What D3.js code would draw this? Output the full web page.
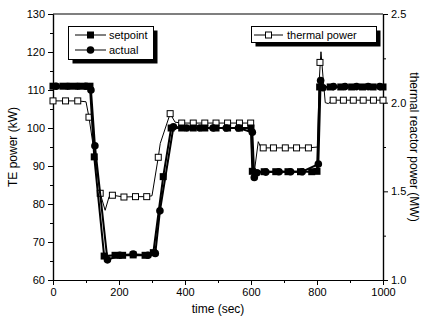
<!DOCTYPE html>
<html>
<head>
<meta charset="utf-8">
<script src="https://cdn.jsdelivr.net/npm/d3@7"></script>
<style>
body { margin: 0; background: #fff; }
svg text { font-family: 'Liberation Sans', sans-serif !important; fill: #000; }
</style>
</head>
<body>
<div id="container"></div>
<script>
// time (sec), TE power (kW)
var setpoint = [[0,111],[30,111],[60,111],[90,111],[112,111],[125,92.4],[155,66.3],[188,66.5],[211,66.5],[243,66.6],[279,66.5],[304,67.2],[334,87.2],[358,100],[390,100],[425,100],[460,100],[494,100],[529,100],[565,100],[600,100],[604,88.6],[640,88.5],[675,88.5],[712,88.5],[750,88.5],[784,88.5],[800,88.6],[808,110.8],[840,110.8],[872,110.8],[905,110.8],[938,110.8],[970,110.8],[1000,110.8]];
var actual = [[10,111],[45,111],[75,111],[100,111],[115,110],[127,95.3],[165,65.3],[202,66.5],[243,66.8],[288,66.5],[310,67],[324,78.2],[365,100.3],[405,100],[445,100],[485,100],[525,100],[562,100],[604,98.9],[610,87],[618,88.2],[645,88.4],[685,88.5],[720,88.5],[755,88.5],[804,90.5],[811,112.5],[818,110.6],[850,110.9],[885,110.9],[920,110.9],[955,110.9],[990,110.9]];
// thermal reactor power (MW): continuous trace and sampled markers
var thermalLine = [[0,2.01],[38,2.01],[75,2.01],[100,2.005],[109,1.918],[143,1.489],[158,1.393],[170,1.47],[180,1.478],[215,1.468],[250,1.47],[284,1.47],[300,1.475],[319,1.692],[325,1.77],[355,1.938],[370,1.89],[390,1.885],[425,1.885],[460,1.885],[494,1.885],[529,1.885],[565,1.885],[599,1.885],[602,1.7],[608,1.58],[622,1.78],[632,1.74],[637,1.745],[668,1.745],[704,1.745],[738,1.745],[774,1.745],[802,1.75],[806,2.1],[812,2.287],[818,2.15],[825,2.0],[834,1.995],[849,2.014],[880,2.014],[910,2.014],[940,2.014],[971,2.014],[1000,2.014]];
var thermalMarks = [[0,2.01],[38,2.01],[75,2.01],[109,1.918],[143,1.489],[180,1.478],[215,1.468],[250,1.47],[284,1.47],[319,1.692],[355,1.938],[390,1.885],[425,1.885],[460,1.885],[494,1.885],[529,1.885],[565,1.885],[599,1.885],[637,1.745],[668,1.745],[704,1.745],[738,1.745],[774,1.745],[809,2.227],[849,2.014],[880,2.014],[910,2.014],[940,2.014],[971,2.014],[1000,2.014]];
var xTicks = [0,200,400,600,800,1000];
var yLeftTicks = [60,70,80,90,100,110,120,130];
var yRightTicks = [1.0,1.5,2.0,2.5];

var W = 426, H = 322;
var FONT = "'Liberation Sans', sans-serif";
var svg = d3.select("#container").append("svg").attr("width", W).attr("height", H)
    .attr("font-family", FONT);

var x = d3.scaleLinear().domain([0,1000]).range([53,383]);
var yL = d3.scaleLinear().domain([60,130]).range([280,14]);
var yR = d3.scaleLinear().domain([1,2.5]).range([280,14]);

function styleAxis(g) {
    g.attr("font-family", FONT);
    g.select(".domain").attr("stroke", "#000").attr("stroke-width", 1.2);
    g.selectAll(".tick line").attr("stroke", "#000").attr("stroke-width", 1);
    g.selectAll(".tick text").style("font-size", "11px").style("font-family", FONT).attr("fill", "#000");
}

// minor ticks first
svg.append("g").attr("transform", "translate(0,280)")
    .call(d3.axisBottom(x).tickValues(d3.range(100,1000,200)).tickSize(3).tickFormat("").tickSizeOuter(0)).call(styleAxis);
svg.append("g").attr("transform", "translate(53,0)")
    .call(d3.axisLeft(yL).tickValues(d3.range(65,130,10)).tickSize(3).tickFormat("").tickSizeOuter(0)).call(styleAxis);
svg.append("g").attr("transform", "translate(383,0)")
    .call(d3.axisRight(yR).tickValues([1.25,1.75,2.25]).tickSize(3).tickFormat("").tickSizeOuter(0)).call(styleAxis);

svg.append("g").attr("transform", "translate(0,280)")
    .call(d3.axisBottom(x).tickValues(xTicks).tickSize(5).tickPadding(3).tickFormat(d3.format("d")).tickSizeOuter(0)).call(styleAxis);
svg.append("g").attr("transform", "translate(53,0)")
    .call(d3.axisLeft(yL).tickValues(yLeftTicks).tickSize(5).tickPadding(3).tickSizeOuter(0)).call(styleAxis);
svg.append("g").attr("transform", "translate(383,0)")
    .call(d3.axisRight(yR).tickValues(yRightTicks).tickSize(5).tickPadding(3).tickFormat(d3.format(".1f")).tickSizeOuter(0)).call(styleAxis);

// top frame
svg.append("line").attr("x1", 53).attr("x2", 383).attr("y1", 14).attr("y2", 14).attr("stroke", "#000").attr("stroke-width", 1.2);

// axis titles
svg.append("text").attr("x", 218).attr("y", 313).attr("text-anchor", "middle").style("font-size", "12px").text("time (sec)");
svg.append("text").attr("transform", "translate(17,147) rotate(-90)").attr("text-anchor", "middle").style("font-size", "12px").text("TE power (kW)");
svg.append("text").attr("transform", "translate(410,147) rotate(90)").attr("text-anchor", "middle").style("font-size", "12px").text("thermal reactor power (MW)");

var lineL = d3.line().x(function (d) { return x(d[0]); }).y(function (d) { return yL(d[1]); });
var lineR = d3.line().x(function (d) { return x(d[0]); }).y(function (d) { return yR(d[1]); });

var plot = svg.append("g");

// thermal power
plot.append("path").datum(thermalLine).attr("d", lineR).attr("fill", "none").attr("stroke", "#000").attr("stroke-width", 1);
plot.selectAll(".tm").data(thermalMarks).enter().append("rect").attr("class", "tm")
    .attr("x", function (d) { return x(d[0]) - 3; }).attr("y", function (d) { return yR(d[1]) - 3; })
    .attr("width", 6).attr("height", 6).attr("fill", "#fff").attr("stroke", "#000").attr("stroke-width", 1);

// setpoint and actual
plot.append("path").datum(setpoint).attr("d", lineL).attr("fill", "none").attr("stroke", "#000").attr("stroke-width", 2);
plot.append("path").datum(actual).attr("d", lineL).attr("fill", "none").attr("stroke", "#000").attr("stroke-width", 2);
plot.selectAll(".sp").data(setpoint).enter().append("rect").attr("class", "sp")
    .attr("x", function (d) { return x(d[0]) - 3.5; }).attr("y", function (d) { return yL(d[1]) - 3.5; })
    .attr("width", 7).attr("height", 7).attr("fill", "#000");
plot.selectAll(".ac").data(actual).enter().append("circle").attr("class", "ac")
    .attr("cx", function (d) { return x(d[0]); }).attr("cy", function (d) { return yL(d[1]); })
    .attr("r", 3.8).attr("fill", "#000");

// legends
function legendBox(x0, y0, w, h) {
    svg.append("rect").attr("x", x0 + 4).attr("y", y0 + 4).attr("width", w).attr("height", h).attr("fill", "#000");
    svg.append("rect").attr("x", x0).attr("y", y0).attr("width", w).attr("height", h).attr("fill", "#fff").attr("stroke", "#000").attr("stroke-width", 1);
}
legendBox(68.5, 26.5, 85, 33);
var leg1 = [{name: "setpoint", y: 35, shape: "square"}, {name: "actual", y: 50, shape: "circle"}];
leg1.forEach(function (d) {
    svg.append("line").attr("x1", 75).attr("x2", 106).attr("y1", d.y).attr("y2", d.y).attr("stroke", "#000").attr("stroke-width", 1);
    if (d.shape === "square") {
        svg.append("rect").attr("x", 90.5 - 3.5).attr("y", d.y - 3.5).attr("width", 7).attr("height", 7).attr("fill", "#000");
    } else {
        svg.append("circle").attr("cx", 90.5).attr("cy", d.y).attr("r", 3.8).attr("fill", "#000");
    }
    svg.append("text").attr("x", 109).attr("y", d.y + 4).style("font-size", "11px").text(d.name);
});

legendBox(251.5, 26.5, 125, 16);
svg.append("line").attr("x1", 254).attr("x2", 283).attr("y1", 35).attr("y2", 35).attr("stroke", "#000").attr("stroke-width", 1);
svg.append("rect").attr("x", 268.5 - 3).attr("y", 35 - 3).attr("width", 6).attr("height", 6).attr("fill", "#fff").attr("stroke", "#000");
svg.append("text").attr("x", 287).attr("y", 39).style("font-size", "11px").text("thermal power");
</script>
</body>
</html>
